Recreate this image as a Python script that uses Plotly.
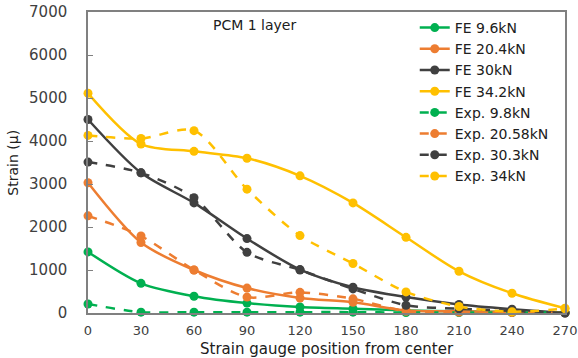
import plotly.graph_objects as go

positions = [0, 30, 60, 90, 120, 150, 180, 210, 240, 270]
x_ticks = [0, 30, 60, 90, 120, 150, 180, 210, 240, 270]
y_ticks = [0, 1000, 2000, 3000, 4000, 5000, 6000, 7000]

fe_96 = [1420, 690, 390, 230, 140, 100, 60, 40, 20, 10]
fe_204 = [3030, 1640, 1000, 580, 350, 250, 60, 40, 20, 10]
fe_30 = [4500, 3260, 2560, 1730, 1010, 600, 370, 200, 90, 0]
fe_342 = [5110, 3930, 3760, 3600, 3190, 2560, 1760, 970, 460, 110]
exp_98 = [210, 20, 20, 20, 20, 20, 10, 10, 10, 10]
exp_2058 = [2260, 1790, 1000, 370, 480, 330, 40, 20, 10, 5]
exp_303 = [3510, 3260, 2680, 1410, 1000, 560, 180, 100, 50, 0]
exp_34 = [4130, 4060, 4240, 2880, 1800, 1150, 490, 150, 30, 100]

series = [
    ("FE 9.6kN", fe_96, "#00B050", "solid"),
    ("FE 20.4kN", fe_204, "#ED7D31", "solid"),
    ("FE 30kN", fe_30, "#404040", "solid"),
    ("FE 34.2kN", fe_342, "#FFC000", "solid"),
    ("Exp. 9.8kN", exp_98, "#00B050", "dash"),
    ("Exp. 20.58kN", exp_2058, "#ED7D31", "dash"),
    ("Exp. 30.3kN", exp_303, "#404040", "dash"),
    ("Exp. 34kN", exp_34, "#FFC000", "dash"),
]

fig = go.Figure()
for name, ys, color, dash in series:
    fig.add_trace(go.Scatter(
        x=positions, y=ys, name=name, mode="lines+markers",
        line=dict(color=color, width=2.5, dash=dash, shape="spline", smoothing=0.8),
        marker=dict(color=color, size=9),
        cliponaxis=False,
    ))

font_family = "DejaVu Sans, Liberation Sans, sans-serif"
fig.update_layout(
    width=578, height=358,
    margin=dict(l=88, r=13, t=12, b=45, autoexpand=False),
    paper_bgcolor="white", plot_bgcolor="white",
    font=dict(family=font_family, size=14, color="#404040"),
    showlegend=True,
    legend=dict(x=0.685, y=1.0, xanchor="left", yanchor="top",
                bgcolor="rgba(0,0,0,0)", font=dict(size=14, color="#202020"),
                tracegroupgap=0, itemwidth=30),
    xaxis=dict(range=[0, 270], tickmode="array", tickvals=x_ticks,
               showgrid=False, zeroline=False, showline=True, linecolor="#808080",
               linewidth=1.5, mirror=True, ticks="", ticklabelstandoff=5,
               ticklabeloverflow="allow",
               tickfont=dict(size=13), automargin=False),
    yaxis=dict(range=[0, 7000], tickmode="array", tickvals=y_ticks,
               showgrid=False, zeroline=False, showline=True, linecolor="#808080",
               linewidth=1.5, mirror=True, ticks="inside", ticklen=5, tickcolor="#808080",
               ticklabelstandoff=16, tickfont=dict(size=15), automargin=False),
    annotations=[
        dict(text="PCM 1 layer", x=0.35, y=0.99, xref="paper", yref="paper",
             showarrow=False, xanchor="center", yanchor="top",
             font=dict(size=14, color="#202020")),
        dict(text="Strain gauge position from center", x=0.5, y=-0.12,
             xref="paper", yref="paper", showarrow=False,
             xanchor="center", yanchor="middle",
             font=dict(size=15, color="#202020")),
        dict(text="Strain (μ)", x=-0.159, y=0.5, textangle=-90,
             xref="paper", yref="paper", showarrow=False,
             xanchor="center", yanchor="middle",
             font=dict(size=14, color="#202020")),
    ],
)

fig.write_html("out.html")
